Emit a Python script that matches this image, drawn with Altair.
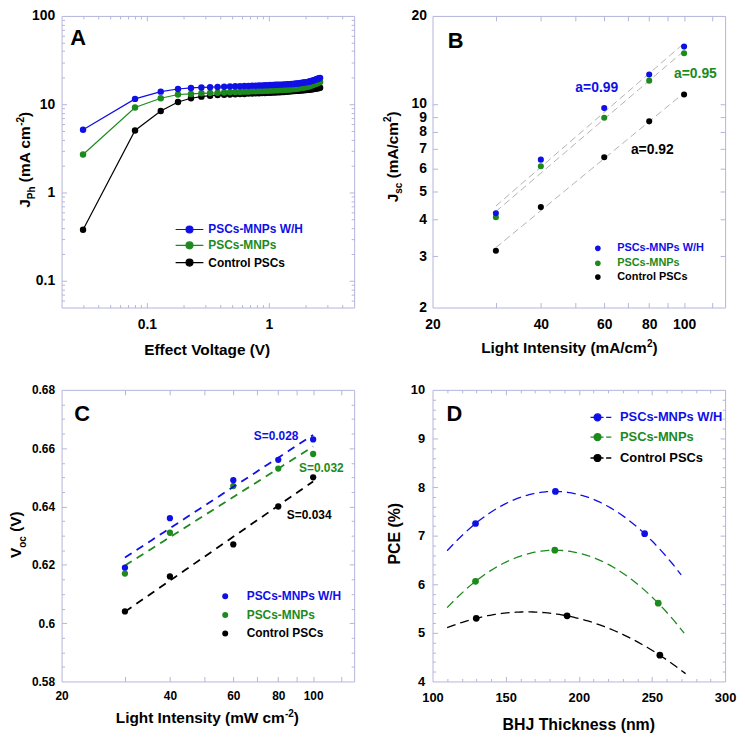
import altair as alt
import pandas as pd

FONT = "Liberation Sans"
FRAME = "#b4b4dc"
BLUE = "#1010e6"
GREEN = "#1d8a1d"
BLACK = "#000000"
FITGREY = "#b0b0b0"

SERIES = ["PSCs-MNPs W/H", "PSCs-MNPs", "Control PSCs"]
COLORS = [BLUE, GREEN, BLACK]

W, H = 295, 294

# ---------------- Panel A : J_ph vs effective voltage ----------------
A_x = [0.03, 0.08, 0.13, 0.18, 0.23, 0.28, 0.33, 0.38, 0.43, 0.48,
       0.53, 0.58, 0.63, 0.68, 0.73, 0.78, 0.83, 0.88, 0.93, 0.98,
       1.03, 1.08, 1.13, 1.18, 1.23, 1.28, 1.33, 1.38, 1.43, 1.48,
       1.53, 1.58, 1.63, 1.68, 1.73, 1.78, 1.83, 1.88, 1.93, 1.98,
       2.03, 2.08, 2.13, 2.18, 2.23, 2.28, 2.33, 2.38, 2.43, 2.48,
       2.53, 2.58, 2.63]
A_blue = [5.15, 11.5, 13.9, 14.9, 15.3, 15.5, 15.6, 15.7, 15.8, 15.9,
          16.0, 16.0, 16.1, 16.1, 16.2, 16.2, 16.3, 16.3, 16.4, 16.4,
          16.5, 16.5, 16.6, 16.6, 16.7, 16.7, 16.8, 16.8, 16.9, 16.9,
          17.0, 17.0, 17.1, 17.2, 17.2, 17.3, 17.4, 17.5, 17.6, 17.7,
          17.8, 17.9, 18.0, 18.2, 18.3, 18.5, 18.7, 18.9, 19.1, 19.3,
          19.5, 19.7, 19.9]
A_green = [2.7, 9.2, 11.7, 12.9, 13.1, 13.3, 13.4, 13.5, 13.6, 13.7,
           13.8, 13.8, 13.9, 13.9, 14.0, 14.0, 14.1, 14.1, 14.2, 14.2,
           14.3, 14.3, 14.4, 14.4, 14.5, 14.5, 14.6, 14.6, 14.7, 14.7,
           14.8, 14.9, 14.9, 15.0, 15.1, 15.2, 15.3, 15.4, 15.5, 15.6,
           15.7, 15.8, 16.0, 16.1, 16.3, 16.5, 16.7, 16.9, 17.1, 17.3,
           17.5, 17.7, 17.9]
A_black = [0.38, 5.05, 8.4, 10.6, 11.7, 12.2, 12.5, 12.7, 12.8, 12.9,
           13.0, 13.1, 13.1, 13.2, 13.2, 13.3, 13.3, 13.4, 13.4, 13.5,
           13.5, 13.6, 13.6, 13.7, 13.7, 13.8, 13.8, 13.9, 13.9, 14.0,
           14.0, 14.1, 14.1, 14.2, 14.2, 14.3, 14.3, 14.4, 14.4, 14.5,
           14.5, 14.6, 14.6, 14.7, 14.8, 14.8, 14.9, 15.0, 15.1, 15.2,
           15.2, 15.3, 15.4]

# ---------------- Panel B : Jsc vs light intensity ----------------
B_x = [30, 40, 60, 80, 100]
B_blue = [4.21, 6.43, 9.66, 12.6, 15.7]
B_green = [4.08, 6.10, 8.95, 12.0, 14.9]
B_black = [3.13, 4.42, 6.55, 8.70, 10.75]
B_notes = ["a=0.99", "a=0.95", "a=0.92"]
B_note_x = [57.2, 107.5, 81.6]
B_note_y = [11.35, 12.69, 6.92]

# ---------------- Panel C : Voc vs light intensity ----------------
C_x = [30, 40, 60, 80, 100]
C_blue = [0.619, 0.636, 0.649, 0.656, 0.663]
C_green = [0.617, 0.631, 0.647, 0.653, 0.658]
C_black = [0.604, 0.616, 0.627, 0.640, 0.650]
C_notes = ["S=0.028", "S=0.032", "S=0.034"]
C_note_x = [78.9, 105.4, 97.5]
C_note_y = [0.6643, 0.6532, 0.6371]

# ---------------- Panel D : PCE vs BHJ thickness ----------------
D_blue_x = [129.4, 184.0, 245.0]
D_blue = [7.25, 7.91, 7.04]
D_green_x = [129.4, 183.6, 254.3]
D_green = [6.06, 6.70, 5.61]
D_black_x = [129.9, 192.0, 255.4]
D_black = [5.30, 5.35, 4.54]
D_fit_extent = [[110, 270], [110, 272], [110, 273]]

# panel letters (data coordinates)
LETTERS = ["A", "B", "C", "D"]
LETTER_X = [0.0273, 23.2, 22.8, 115]
LETTER_Y = [56.2, 16.45, 0.6717, 9.505]

# ---------------- axis ticks ----------------
A_x_labels = [0.1, 1]
A_x_major = [0.1, 1]
A_x_minor = [0.03, 0.04, 0.05, 0.06, 0.07, 0.08, 0.09,
             0.2, 0.3, 0.4, 0.5, 0.6, 0.7, 0.8, 0.9, 2, 3, 4]
A_y_labels = [0.1, 1, 10, 100]
A_y_major = [0.1, 1, 10]
A_y_minor = [0.06, 0.07, 0.08, 0.09, 0.2, 0.3, 0.4, 0.5, 0.6, 0.7, 0.8, 0.9,
             2, 3, 4, 5, 6, 7, 8, 9, 20, 30, 40, 50, 60, 70, 80, 90]

LI_x_labels = [20, 40, 60, 80, 100]
LI_x_major = [30, 40, 50, 60, 70, 80, 90, 100, 120]

B_y_labels = [2, 3, 4, 5, 6, 7, 8, 9, 10, 20]
B_y_major = [3, 4, 5, 6, 7, 8, 9, 10]

C_y_labels = [0.58, 0.6, 0.62, 0.64, 0.66, 0.68]
C_y_major = [0.6, 0.62, 0.64, 0.66]
C_y_minor = [0.585, 0.59, 0.595, 0.605, 0.61, 0.615, 0.625, 0.63, 0.635,
             0.645, 0.65, 0.655, 0.665, 0.67, 0.675]

D_x_labels = [100, 150, 200, 250, 300]
D_x_major = [150, 200, 250]
D_x_minor = [110, 120, 130, 140, 160, 170, 180, 190, 210, 220, 230, 240,
             260, 270, 280, 290]
D_y_labels = [4, 5, 6, 7, 8, 9, 10]
D_y_major = [5, 6, 7, 8, 9]
D_y_minor = [4.2, 4.4, 4.6, 4.8, 5.2, 5.4, 5.6, 5.8, 6.2, 6.4, 6.6, 6.8,
             7.2, 7.4, 7.6, 7.8, 8.2, 8.4, 8.6, 8.8, 9.2, 9.4, 9.6, 9.8]

# Arial-bold advance widths (per 1000 em) for rich-text titles
AW = {' ': 278, '(': 333, ')': 333, '/': 278, '-': 333, '%': 889, '2': 556,
      'A': 722, 'B': 722, 'C': 722, 'E': 667, 'H': 722, 'I': 278, 'J': 556,
      'L': 611, 'P': 667, 'T': 611, 'V': 667, 'W': 944,
      'a': 556, 'c': 556, 'e': 556, 'f': 333, 'g': 611, 'h': 611, 'i': 278,
      'k': 556, 'l': 278, 'm': 889, 'n': 611, 'o': 611, 's': 556, 't': 333,
      'y': 556}

LINE_DOT = "M-1,0H1M-0.25,0A0.25,0.25,0,1,1,0.25,0A0.25,0.25,0,1,1,-0.25,0Z"
DASH_DOT = ("M-1,0H-0.5M-0.15,0H0.25M0.5,0H1"
            "M-0.66,0A0.33,0.33,0,1,1,0,0A0.33,0.33,0,1,1,-0.66,0Z")

LABEL_EXPR = "format(datum.value, '.2~f')"


def rich_text(segs, fs, cx, cy, angle):
    pieces = []
    total = 0.0
    for text, kind in segs:
        size = fs if kind == 'n' else fs * 0.65
        w = sum(AW.get(ch, 556) for ch in text) * size / 1000
        pieces.append((text, kind, size, w))
        total += w
    cur = -total / 2
    layers = []
    for text, kind, size, w in pieces:
        lead = len(text) - len(text.lstrip(' '))
        if lead:
            sp = lead * 278 * size / 1000
            cur += sp
            w -= sp
            text = text.lstrip(' ')
        dy = {'n': 0, 'sub': 0.3 * fs, 'sup': -0.42 * fs}[kind]
        layers.append(
            alt.Chart(pd.DataFrame({'t': [text]})).mark_text(
                align='left', baseline='alphabetic', angle=angle, dx=cur, dy=dy,
                font=FONT, fontSize=size, fontWeight='bold', color='black'
            ).encode(text='t:N', x=alt.value(cx), y=alt.value(cy)))
        cur += w
    return layers


def axis_layers(xs, ys, x0, y0, x_lab, y_lab, x_maj, y_maj, x_min, y_min,
                lsize, xpad, ypad):
    base = pd.DataFrame({'x': [x0], 'y': [y0]})

    def lay(xa, ya):
        return alt.Chart(base).mark_point(opacity=0).encode(
            x=alt.X('x:Q', scale=xs, axis=xa), y=alt.Y('y:Q', scale=ys, axis=ya))

    lab = dict(labelFont=FONT, labelFontSize=lsize, labelFontWeight='bold',
               labelColor='black', ticks=False, tickSize=0, domain=False,
               grid=False, title=None, labelExpr=LABEL_EXPR, labelOverlap=False,
               labelFlush=False)

    def tk(orient, vals, size):
        if not vals:
            return None
        return alt.Axis(orient=orient, values=vals, labels=False, domain=False,
                        grid=False, ticks=True, tickSize=size, offset=-size,
                        tickColor=FRAME, tickWidth=1, title=None)

    out = [lay(alt.Axis(orient='bottom', values=x_lab, labelPadding=xpad, **lab),
               alt.Axis(orient='left', values=y_lab, labelPadding=ypad, **lab)),
           lay(tk('bottom', x_maj, 5), tk('left', y_maj, 5)),
           lay(tk('top', x_maj, 5), tk('right', y_maj, 5))]
    if x_min or y_min:
        out += [lay(tk('bottom', x_min, 3), tk('left', y_min, 3)),
                lay(tk('top', x_min, 3), tk('right', y_min, 3))]
    return out


def enc(xs, ys):
    return dict(x=alt.X('x:Q', scale=xs, axis=None),
                y=alt.Y('y:Q', scale=ys, axis=None))


def legend(i, lx, ly, symbol, size, sw, fs, loff):
    return alt.Legend(orient='none', legendX=lx, legendY=ly, title=None,
                      symbolType=symbol, symbolSize=size,
                      symbolFillColor=COLORS[i], symbolStrokeColor=COLORS[i],
                      symbolStrokeWidth=sw, symbolOpacity=1,
                      labelColor=COLORS[i], labelFont=FONT, labelFontSize=fs,
                      labelFontWeight='bold', labelOffset=loff, padding=0)


def color_enc(i, leg):
    return alt.Color('s:N', scale=alt.Scale(domain=[SERIES[i]], range=[COLORS[i]]),
                     legend=leg)


def letter(k, xs, ys):
    df = pd.DataFrame({'x': [LETTER_X[k]], 'y': [LETTER_Y[k]], 't': [LETTERS[k]]})
    return alt.Chart(df).mark_text(font=FONT, fontSize=22, fontWeight='bold',
                                   color='black', align='center',
                                   baseline='middle').encode(text='t:N', **enc(xs, ys))


def finish(layers):
    return alt.layer(*layers).properties(width=W, height=H).resolve_scale(
        color='independent').resolve_axis(x='independent', y='independent')


# ---------------- build panel A ----------------
xA = alt.Scale(type='log', domain=[0.02, 5], nice=False)
yA = alt.Scale(type='log', domain=[0.05, 100], nice=False)
layA = axis_layers(xA, yA, 0.02, 0.05, A_x_labels, A_y_labels, A_x_major,
                   A_y_major, A_x_minor, A_y_minor, 14, 10, 7)
A_rows = [214.3, 230.3, 247.7]
for i in [2, 1, 0]:
    ys_ = [A_blue, A_green, A_black][i]
    df = pd.DataFrame({'x': A_x, 'y': ys_, 's': SERIES[i]})
    layA.append(alt.Chart(df).mark_line(color=COLORS[i], strokeWidth=1.2)
                .encode(**enc(xA, yA)))
    layA.append(alt.Chart(df).mark_point(filled=True, opacity=1, size=42)
                .encode(color=color_enc(i, legend(i, 114, A_rows[i] - 14, LINE_DOT,
                                                  784, 1.2, 12, 4)),
                        **enc(xA, yA)))
layA.append(letter(0, xA, yA))
layA += rich_text([("Effect Voltage (V)", 'n')], 15.5, W / 2, H + 48, 0)
layA += rich_text([("J", 'n'), ("Ph", 'sub'), (" (mA cm", 'n'), ("-2", 'sup'),
                   (")", 'n')], 15.5, -31.5, 145, 270)
panelA = finish(layA)

# ---------------- build panel B ----------------
xB = alt.Scale(type='log', domain=[20, 130], nice=False)
yB = alt.Scale(type='log', domain=[2, 20], nice=False)
layB = axis_layers(xB, yB, 20, 2, LI_x_labels, B_y_labels, LI_x_major,
                   B_y_major, [], [], 14, 10, 6)
B_rows = [231.6, 246.6, 260.6]
for i in [2, 1, 0]:
    ys_ = [B_blue, B_green, B_black][i]
    df = pd.DataFrame({'x': B_x, 'y': ys_, 's': SERIES[i]})
    layB.append(alt.Chart(df).transform_regression('x', 'y', method='pow',
                                                   extent=[30, 100])
                .mark_line(color=FITGREY, strokeWidth=1, strokeDash=[7, 4])
                .encode(**enc(xB, yB)))
for i in [2, 1, 0]:
    ys_ = [B_blue, B_green, B_black][i]
    df = pd.DataFrame({'x': B_x, 'y': ys_, 's': SERIES[i]})
    layB.append(alt.Chart(df).mark_point(filled=True, opacity=1, size=38)
                .encode(color=color_enc(i, legend(i, 161.2, B_rows[i] - 2.8,
                                                  'circle', 32, 0, 11, 14)),
                        **enc(xB, yB)))
for i in range(3):
    df = pd.DataFrame({'x': [B_note_x[i]], 'y': [B_note_y[i]], 't': [B_notes[i]]})
    layB.append(alt.Chart(df).mark_text(font=FONT, fontSize=14, fontWeight='bold',
                                        color=COLORS[i], align='center',
                                        baseline='middle')
                .encode(text='t:N', **enc(xB, yB)))
layB.append(letter(1, xB, yB))
layB += rich_text([("Light Intensity (mA/cm", 'n'), ("2", 'sup'), (")", 'n')],
                  15.5, 138, H + 46, 0)
layB += rich_text([("J", 'n'), ("sc", 'sub'), (" (mA/cm", 'n'), ("2", 'sup'),
                   (")", 'n')], 15.5, -35, 142, 270)
panelB = finish(layB)

# ---------------- build panel C ----------------
xC = alt.Scale(type='log', domain=[20, 130], nice=False)
yC = alt.Scale(type='linear', domain=[0.58, 0.68], nice=False, zero=False)
layC = axis_layers(xC, yC, 20, 0.58, LI_x_labels, C_y_labels, LI_x_major,
                   C_y_major, [], C_y_minor, 12, 9.5, 7)
C_rows = [205.0, 224.0, 242.6]
for i in [2, 1, 0]:
    ys_ = [C_blue, C_green, C_black][i]
    df = pd.DataFrame({'x': C_x, 'y': ys_, 's': SERIES[i]})
    layC.append(alt.Chart(df).transform_regression('x', 'y', method='log',
                                                   extent=[30, 100])
                .mark_line(color=COLORS[i], strokeWidth=1.8, strokeDash=[8, 6])
                .encode(**enc(xC, yC)))
    layC.append(alt.Chart(df).mark_point(filled=True, opacity=1, size=40)
                .encode(color=color_enc(i, legend(i, 159, C_rows[i] - 3,
                                                  'circle', 36, 0, 12, 15.7)),
                        **enc(xC, yC)))
for i in range(3):
    df = pd.DataFrame({'x': [C_note_x[i]], 'y': [C_note_y[i]], 't': [C_notes[i]]})
    layC.append(alt.Chart(df).mark_text(font=FONT, fontSize=12, fontWeight='bold',
                                        color=COLORS[i], align='center',
                                        baseline='middle')
                .encode(text='t:N', **enc(xC, yC)))
layC.append(letter(2, xC, yC))
layC += rich_text([("Light Intensity (mW cm", 'n'), ("-2", 'sup'), (")", 'n')],
                  15.5, 147, H + 42, 0)
layC += rich_text([("V", 'n'), ("oc", 'sub'), (" (V)", 'n')], 15.5, -40.5, 146, 270)
panelC = finish(layC)

# ---------------- build panel D ----------------
xD = alt.Scale(type='linear', domain=[100, 300], nice=False, zero=False)
yD = alt.Scale(type='linear', domain=[4, 10], nice=False, zero=False)
layD = axis_layers(xD, yD, 100, 4, D_x_labels, D_y_labels, D_x_major,
                   D_y_major, D_x_minor, D_y_minor, 13, 10, 8)
D_rows = [26.7, 46.7, 67.7]
for i in [2, 1, 0]:
    xs_ = [D_blue_x, D_green_x, D_black_x][i]
    ys_ = [D_blue, D_green, D_black][i]
    df = pd.DataFrame({'x': xs_, 'y': ys_, 's': SERIES[i]})
    layD.append(alt.Chart(df).transform_regression('x', 'y', method='poly', order=2,
                                                   extent=D_fit_extent[i])
                .mark_line(color=COLORS[i], strokeWidth=1.3, strokeDash=[9, 5])
                .encode(**enc(xD, yD)))
    layD.append(alt.Chart(df).mark_point(filled=True, opacity=1, size=46)
                .encode(color=color_enc(i, legend(i, 158.3, D_rows[i] - 10.5,
                                                  DASH_DOT, 441, 1.3, 13, 7.7)),
                        **enc(xD, yD)))
layD.append(letter(3, xD, yD))
layD += rich_text([("BHJ Thickness (nm)", 'n')], 16, W / 2, H + 49, 0)
layD += rich_text([("PCE (%)", 'n')], 16, -32.5, 145, 270)
panelD = finish(layD)

chart = alt.concat(panelA, panelB, panelC, panelD, columns=2,
                   spacing={'row': 83, 'column': 79}, bounds='flush').properties(
    padding={'left': 1, 'top': -3, 'right': 0, 'bottom': 0},
    background='white'
).configure_view(stroke=FRAME, strokeWidth=1)

chart.save("out.html", embed_options={"renderer": "svg", "actions": False})
